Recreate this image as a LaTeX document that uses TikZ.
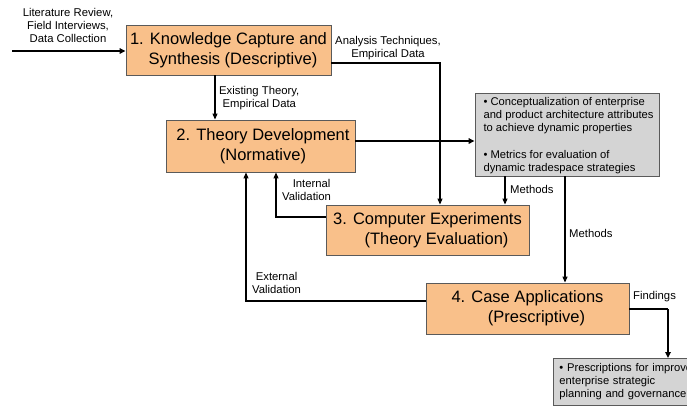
\documentclass[tikz,border=0pt]{standalone}
\usepackage{fontspec}
\setmainfont{Liberation Sans}
\usetikzlibrary{arrows.meta,calc}
\definecolor{boxorange}{RGB}{249,192,138}
\definecolor{boxgray}{RGB}{212,212,212}
\definecolor{edgegray}{RGB}{90,90,90}
\tikzset{
  stagebox/.style={draw=edgegray,line width=0.9pt,fill=boxorange,align=center,inner sep=0pt,
    font=\fontsize{16.5}{20}\selectfont},
  notebox/.style={draw=edgegray,line width=0.9pt,fill=boxgray,align=left,inner sep=0pt,
    font=\fontsize{11.2}{13.2}\selectfont},
  lbl/.style={font=\fontsize{11.3}{13}\selectfont,align=center,inner sep=0pt},
  conn/.style={line width=1.1pt,-{Triangle[length=6pt,width=5pt]}},
  connplain/.style={line width=1.1pt},
  bigconn/.style={line width=2pt,-{Triangle[length=6pt,width=5.5pt]}},
}
\begin{document}
\begin{tikzpicture}[x=1pt,y=-1pt]
\useasboundingbox (0,0) rectangle (687,405);
\clip (0,0) rectangle (687,405);
% boxes
\node[stagebox,minimum width=205pt,minimum height=50pt] (b1) at (228.5,50)
  {1. Knowledge Capture and\\\hspace*{9pt}Synthesis (Descriptive)};
\node[stagebox,minimum width=189pt,minimum height=52pt] (b2) at (260.5,146)
  {\hspace*{5pt}2. Theory Development\\\hspace*{5pt}(Normative)};
\node[stagebox,minimum width=203pt,minimum height=50pt] (b3) at (427.5,230)
  {3. Computer Experiments\\\hspace*{18pt}(Theory Evaluation)};
\node[stagebox,minimum width=203pt,minimum height=51pt] (b4) at (527.5,308.5)
  {4. Case Applications\\\hspace*{18pt}(Prescriptive)};
\node[notebox,minimum width=184pt,minimum height=83pt,text depth=-2pt] (g1) at (567,134.5)
  {\hspace*{3pt}• Conceptualization of enterprise\\\hspace*{3pt}and product architecture attributes\\\hspace*{3pt}to achieve dynamic properties\\[13.2pt]\hspace*{3pt}• Metrics for evaluation of\\\hspace*{3pt}dynamic tradespace strategies};
\node[notebox,anchor=north west,minimum width=160pt,text width=150pt,
  inner xsep=6pt,inner ysep=5pt] (g2) at (553,358)
  {• Prescriptions for improve\\enterprise strategic\\planning and governance};
% connectors
\coordinate (in) at (12,51);
\draw[bigconn] (in) -- (in -| b1.west);
\draw[conn] ([xshift=-13.5pt]b1.south) -- ([xshift=-13.5pt]b1.south |- b2.north);
\draw[conn] ([yshift=-13pt]b1.east) -| ([xshift=12.5pt]b3.north);
\draw[bigconn] ([yshift=5pt]b2.east) -- ([yshift=5pt]b2.east -| g1.west);
\draw[conn] ([xshift=-62pt]g1.south) -- ([xshift=-62pt]g1.south |- b3.north);
\draw[conn] ([xshift=-2pt]g1.south) -- ([xshift=-2pt]g1.south |- b4.north);
\draw[conn] ([yshift=13pt]b3.west) -| ([xshift=15.5pt]b2.south);
\draw[conn] ([yshift=7.5pt]b4.west) -| ([xshift=-14.5pt]b2.south);
\coordinate (f) at (668,309);
\draw[connplain] (b4.east |- f) -- (f);
\draw[bigconn] (f) -- (f |- g2.north);
% labels
\node[lbl] (l1) at (68,25) {Literature Review,\\Field Interviews,\\Data Collection};
\node[lbl,anchor=west] (l2) at (219,98.5) {Existing Theory,\\Empirical Data};
\node[lbl] (l3) at (388,48.5) {Analysis Techniques,\\Empirical Data};
\node[lbl,anchor=west] (l4) at (282,189.5) {\hspace*{10pt}Internal\\Validation};
\node[lbl,anchor=west] (l5) at (510,189) {Methods};
\node[lbl,anchor=west] (l6) at (569,233) {Methods};
\node[lbl,anchor=west] (l7) at (252,282.5) {External\\Validation};
\node[lbl,anchor=west] (l8) at (633,297) {Findings};
\end{tikzpicture}
\end{document}
